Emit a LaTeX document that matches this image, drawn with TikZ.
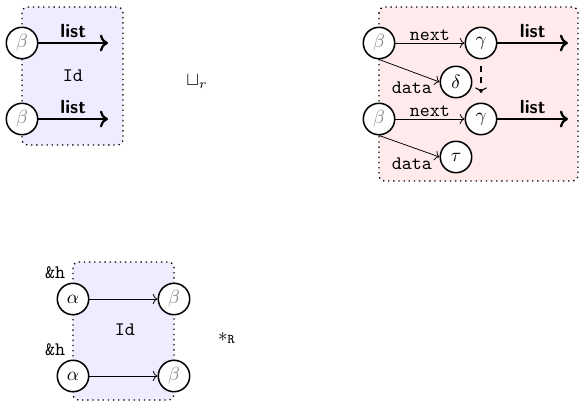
\documentclass[tikz,border=0pt]{standalone}
\usetikzlibrary{arrows.meta}
\begin{document}
\begin{tikzpicture}[x=0.525pt,y=-0.525pt,
  nd/.style={circle,draw,thick,fill=white,minimum size=16.5pt,inner sep=0.5pt},
  gnd/.style={nd,text=gray},
  bluebox/.style={draw,dotted,line width=0.7pt,rounded corners=3pt,fill=blue!7},
  redbox/.style={draw,dotted,line width=0.7pt,rounded corners=3pt,fill=red!8},
  listarr/.style={->,line width=1.2pt},
  thinarr/.style={->},
  lbl/.style={inner sep=1pt}]
\useasboundingbox (0,0) rectangle (579,402);
% boxes
\path[bluebox] (22,7) rectangle (123,145);
\path[redbox] (379,7) rectangle (578,181);
\path[bluebox] (73,262) rectangle (174,400);
% top-left
\node[gnd] (tb1) at (22,43) {$\beta$};
\node[gnd] (tb2) at (22,119) {$\beta$};
\coordinate (te1) at (108,43);
\coordinate (te2) at (108,119);
\draw[listarr] (tb1) -- node[above,lbl,yshift=1pt]{\textsf{\bfseries list}} (te1);
\draw[listarr] (tb2) -- node[above,lbl,yshift=1pt]{\textsf{\bfseries list}} (te2);
\node (id1) at (73,76) {\texttt{Id}};
\node (join) at (197,82) {$\sqcup_r$};
% top-right
\node[gnd] (rb1) at (379,43) {$\beta$};
\node[nd] (rg1) at (481,43) {$\gamma$};
\node[nd] (rd) at (456,82) {$\delta$};
\node[gnd] (rb2) at (379,119) {$\beta$};
\node[nd] (rg2) at (481,119) {$\gamma$};
\node[nd] (rt) at (456,157) {$\tau$};
\coordinate (re1) at (568,43);
\coordinate (re2) at (568,119);
\draw[thinarr] (rb1) -- node[above,lbl]{\texttt{next}} (rg1);
\draw[thinarr] (rb2) -- node[above,lbl]{\texttt{next}} (rg2);
\draw[listarr] (rg1) -- node[above,lbl,yshift=1pt]{\textsf{\bfseries list}} (re1);
\draw[listarr] (rg2) -- node[above,lbl,yshift=1pt]{\textsf{\bfseries list}} (re2);
\draw[thinarr] (rb1.south) -- (rd.west);
\draw[thinarr] (rb2.south) -- (rt.west);
\node (dl1) at (412,88) {\texttt{data}};
\node (dl2) at (412,164) {\texttt{data}};
\draw[->,dashed,semithick,shorten <=3.4pt,shorten >=5pt] (rg1.south) -- (rg2.north);
% bottom
\node[nd] (ba1) at (73,299) {$\alpha$};
\node[gnd] (bb1) at (174,299) {$\beta$};
\node[nd] (ba2) at (73,376) {$\alpha$};
\node[gnd] (bb2) at (174,376) {$\beta$};
\draw[thinarr] (ba1) -- (bb1);
\draw[thinarr] (ba2) -- (bb2);
\node (h1) at (55,273) {\texttt{\&h}};
\node (h2) at (55,350) {\texttt{\&h}};
\node (id2) at (125,330) {\texttt{Id}};
\node (star) at (227,338) {$*_{\mathtt{R}}$};
\end{tikzpicture}
\end{document}
